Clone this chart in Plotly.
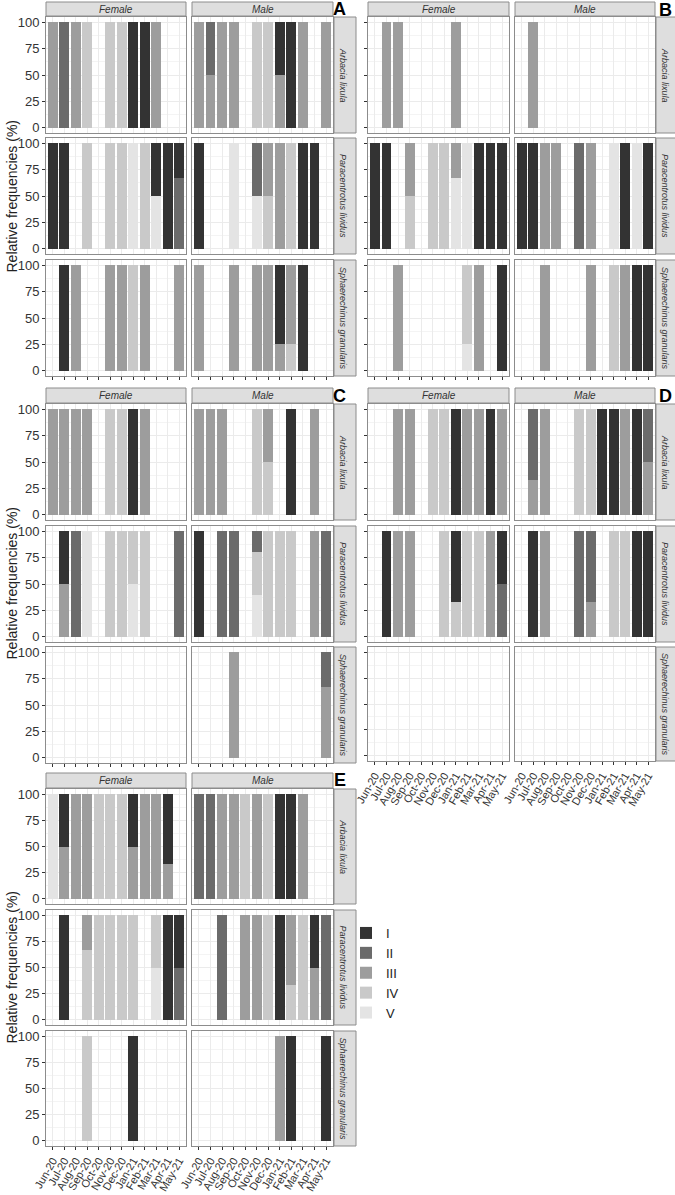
import plotly.graph_objects as go

# ---------------- data ----------------
MONTHS = ["Jun-20", "Jul-20", "Aug-20", "Sep-20", "Oct-20", "Nov-20",
          "Dec-20", "Jan-21", "Feb-21", "Mar-21", "Apr-21", "May-21"]
STAGES = ["I", "II", "III", "IV", "V"]
STAGE_COLORS = {"I": "#333333", "II": "#6b6b6b", "III": "#9d9d9d",
                "IV": "#c9c9c9", "V": "#e4e4e4"}
SPECIES = ["Arbacia lixula", "Paracentrotus lividus", "Sphaerechinus granularis"]
SEXES = ["Female", "Male"]
_ = None  # no sample that month

# Each month: a stage name (100 %), a dict {stage: %}, or None
# Panel A
A_F_ARB = ["III", "II", "III", "IV", _, "IV", "IV", "I", "I", "III", _, _]
A_M_ARB = ["III", {"II": 50, "III": 50}, "III", "III", _, "IV", "IV", {"I": 50, "III": 50}, "I", "III", _, "III"]
A_F_PAR = ["I", "I", _, "IV", _, "IV", "IV", "V", "IV", {"I": 50, "V": 50}, "I", {"I": 33.3, "II": 66.7}]
A_M_PAR = ["I", _, _, "V", _, {"II": 50, "V": 50}, {"III": 50, "IV": 50}, "III", "IV", "I", "I", _]
A_F_SPH = [_, "I", "III", _, _, "III", "III", "IV", "III", _, _, "III"]
A_M_SPH = ["III", _, _, "III", _, "III", "III", {"I": 75, "III": 25}, {"III": 75, "IV": 25}, "I", _, _]
# Panel B
B_F_ARB = [_, "III", "III", _, _, _, _, "III", _, _, _, _]
B_M_ARB = [_, "III", _, _, _, _, _, _, _, _, _, _]
B_F_PAR = ["I", "I", _, {"III": 50, "IV": 50}, _, "IV", "IV", {"III": 33.3, "V": 66.7}, "V", "I", "I", "I"]
B_M_PAR = ["I", "I", "III", "III", _, "II", "III", _, "V", "I", "V", "I"]
B_F_SPH = [_, _, "III", _, _, _, _, _, {"IV": 75, "V": 25}, "III", _, "I"]
B_M_SPH = [_, _, "III", _, _, _, "III", _, "IV", "III", "I", "I"]
# Panel C
C_F_ARB = ["III", "III", "III", "III", _, "IV", "IV", "I", "III", _, _, _]
C_M_ARB = ["III", "III", "III", _, _, "IV", {"III": 50, "IV": 50}, _, "I", _, "III", _]
C_F_PAR = [_, {"I": 50, "III": 50}, "II", "V", _, "IV", "IV", {"IV": 50, "V": 50}, "IV", _, _, "II"]
C_M_PAR = ["I", _, "II", "II", _, {"II": 20, "IV": 40, "V": 40}, "IV", "IV", "IV", _, "III", "II"]
C_F_SPH = [_, _, _, _, _, _, _, _, _, _, _, _]
C_M_SPH = [_, _, _, "III", _, _, _, _, _, _, _, {"II": 33.3, "III": 66.7}]
# Panel D
D_F_ARB = [_, _, "III", "III", _, "IV", "IV", "I", "III", "III", "I", "III"]
D_M_ARB = [_, {"II": 66.7, "III": 33.3}, "III", _, _, "IV", "IV", "I", "I", "III", "I", {"II": 50, "III": 50}]
D_F_PAR = [_, "I", "III", "III", _, _, "IV", {"I": 66.7, "IV": 33.3}, "IV", "IV", "III", {"I": 50, "II": 50}]
D_M_PAR = [_, "I", "III", _, _, "II", {"II": 66.7, "III": 33.3}, _, "IV", "IV", "I", "I"]
D_F_SPH = [_, _, _, _, _, _, _, _, _, _, _, _]
D_M_SPH = [_, _, _, _, _, _, _, _, _, _, _, _]
# Panel E
E_F_ARB = ["V", {"I": 50, "III": 50}, "III", "III", "IV", "IV", "IV", {"I": 50, "III": 50}, "III", "III", {"I": 66.7, "III": 33.3}, _]
E_M_ARB = ["II", "II", "III", "III", "IV", "III", "IV", "I", "I", "III", _, _]
E_F_PAR = [_, "I", _, {"III": 33.3, "IV": 66.7}, "IV", "IV", "IV", "IV", _, {"IV": 50, "V": 50}, "I", {"I": 50, "II": 50}]
E_M_PAR = [_, _, "II", _, "III", "III", "IV", "I", {"III": 66.7, "IV": 33.3}, "IV", {"I": 50, "III": 50}, "II"]
E_F_SPH = [_, _, _, "IV", _, _, _, "I", _, _, _, _]
E_M_SPH = [_, _, _, _, _, _, _, "III", "I", _, _, "I"]

PANEL_DATA = {
    "A": {"Female": [A_F_ARB, A_F_PAR, A_F_SPH], "Male": [A_M_ARB, A_M_PAR, A_M_SPH]},
    "B": {"Female": [B_F_ARB, B_F_PAR, B_F_SPH], "Male": [B_M_ARB, B_M_PAR, B_M_SPH]},
    "C": {"Female": [C_F_ARB, C_F_PAR, C_F_SPH], "Male": [C_M_ARB, C_M_PAR, C_M_SPH]},
    "D": {"Female": [D_F_ARB, D_F_PAR, D_F_SPH], "Male": [D_M_ARB, D_M_PAR, D_M_SPH]},
    "E": {"Female": [E_F_ARB, E_F_PAR, E_F_SPH], "Male": [E_M_ARB, E_M_PAR, E_M_SPH]},
}

# ---------------- layout geometry (pixels) ----------------
W, H = 675, 1195
LEFT_COLS = [(46, 186), (192, 333)]
RIGHT_COLS = [(368, 509), (515, 655)]
GEOM = {
    "A": dict(cols=LEFT_COLS, strip=(334, 356), head=(2, 16),
              rows=[(17, 133), (138, 254), (260, 376)], xlab=False, ylab=True, letter=(340, 9)),
    "B": dict(cols=RIGHT_COLS, strip=(656, 679), head=(2, 16),
              rows=[(17, 133), (138, 254), (260, 376)], xlab=False, ylab=False, letter=(665, 10)),
    "C": dict(cols=LEFT_COLS, strip=(334, 356), head=(388, 403),
              rows=[(404, 520), (526, 642), (647, 763)], xlab=False, ylab=True, letter=(340, 396)),
    "D": dict(cols=RIGHT_COLS, strip=(656, 679), head=(388, 403),
              rows=[(404, 520), (526, 642), (647, 761)], xlab=True, ylab=False, letter=(665, 396)),
    "E": dict(cols=LEFT_COLS, strip=(334, 356), head=(773, 788),
              rows=[(789, 904), (910, 1025), (1031, 1146)], xlab=True, ylab=True, letter=(340, 780)),
}

FONT = "Liberation Sans, Arial, sans-serif"
BORDER = "#8c8c8c"
STRIP_FILL = "#dedede"
GRID = "#ebebeb"


def px(x):
    return x / W


def py(y):
    return 1 - y / H


def stage_values(months):
    out = {s: [None] * len(months) for s in STAGES}
    for i, m in enumerate(months):
        if m is None:
            continue
        comp = {m: 100} if isinstance(m, str) else m
        for s, v in comp.items():
            out[s][i] = v
    return out


fig = go.Figure()
layout = {}
shapes = []
annotations = []
xs = list(range(1, len(MONTHS) + 1))
k = 0
first = True

for pname, geom in GEOM.items():
    for ci, sex in enumerate(SEXES):
        x0, x1 = geom["cols"][ci]
        h0, h1 = geom["head"]
        shapes.append(dict(type="rect", xref="paper", yref="paper",
                           x0=px(x0), x1=px(x1), y0=py(h1), y1=py(h0),
                           fillcolor=STRIP_FILL, line=dict(color=BORDER, width=1), layer="below"))
        annotations.append(dict(text="<i>%s</i>" % sex, xref="paper", yref="paper",
                                x=px((x0 + x1) / 2), y=py((h0 + h1) / 2), showarrow=False,
                                font=dict(family=FONT, size=10, color="#333333"),
                                xanchor="center", yanchor="middle"))
        for ri, sp in enumerate(SPECIES):
            k += 1
            y0, y1 = geom["rows"][ri]
            xa = "xaxis" if k == 1 else "xaxis%d" % k
            ya = "yaxis" if k == 1 else "yaxis%d" % k
            xr = "x" if k == 1 else "x%d" % k
            yr = "y" if k == 1 else "y%d" % k
            bottom = ri == len(SPECIES) - 1
            layout[xa] = dict(domain=[px(x0), px(x1)], range=[0.4, 12.6], anchor=yr,
                              tickmode="array", tickvals=xs, ticktext=MONTHS,
                              showticklabels=bottom and geom["xlab"], tickangle=-60,
                              ticks="outside" if bottom else "", ticklen=3, tickcolor="#333333",
                              tickfont=dict(family=FONT, size=11, color="#333333"),
                              showgrid=True, gridcolor=GRID, gridwidth=1, zeroline=False,
                              showline=True, mirror=True, linecolor=BORDER, linewidth=1,
                              automargin=False, fixedrange=True)
            layout[ya] = dict(domain=[py(y1), py(y0)], range=[-5, 105], anchor=xr,
                              tickmode="linear", tick0=0, dtick=25,
                              showticklabels=(ci == 0 and geom["ylab"]),
                              ticks="outside" if ci == 0 else "", ticklen=3, tickcolor="#333333",
                              tickfont=dict(family=FONT, size=13, color="#333333"),
                              showgrid=True, gridcolor=GRID, gridwidth=1, zeroline=False,
                              minor=dict(dtick=12.5, tick0=0, showgrid=True, gridcolor="#f4f4f4", ticks=""),
                              showline=True, mirror=True, linecolor=BORDER, linewidth=1,
                              automargin=False, fixedrange=True)
            vals = stage_values(PANEL_DATA[pname][sex][ri])
            for rank, st in reversed(list(enumerate(STAGES))):
                fig.add_trace(go.Bar(x=xs, y=vals[st], name=st, width=0.86,
                                     marker=dict(color=STAGE_COLORS[st], line=dict(width=0)),
                                     xaxis=xr, yaxis=yr, legendgroup=st,
                                     showlegend=first, legendrank=rank + 1,
                                     hoverinfo="skip"))
            first = False
            if ci == 1:
                s0, s1 = geom["strip"]
                shapes.append(dict(type="rect", xref="paper", yref="paper",
                                   x0=px(s0), x1=px(s1), y0=py(y1), y1=py(y0),
                                   fillcolor=STRIP_FILL, line=dict(color=BORDER, width=1), layer="below"))
                annotations.append(dict(text="<i>%s</i>" % sp, xref="paper", yref="paper",
                                        x=px(s0 + 9), y=py((y0 + y1) / 2), showarrow=False,
                                        textangle=90, font=dict(family=FONT, size=9, color="#333333"),
                                        xanchor="center", yanchor="middle"))
    lx, ly = geom["letter"]
    annotations.append(dict(text="<b>%s</b>" % pname, xref="paper", yref="paper",
                            x=px(lx), y=py(ly), showarrow=False,
                            font=dict(family=FONT, size=18, color="#000000"),
                            xanchor="center", yanchor="middle"))
    if geom["ylab"]:
        r0 = geom["rows"][0][0]
        r1 = geom["rows"][-1][1]
        annotations.append(dict(text="Relative frequencies (%)", xref="paper", yref="paper",
                                x=px(11), y=py((r0 + r1) / 2), showarrow=False, textangle=-90,
                                font=dict(family=FONT, size=14, color="#222222"),
                                xanchor="center", yanchor="middle"))

fig.update_layout(**layout)
fig.update_layout(
    width=W, height=H, margin=dict(l=0, r=0, t=0, b=0, autoexpand=False),
    paper_bgcolor="white", plot_bgcolor="white",
    barmode="stack", shapes=shapes, annotations=annotations,
    showlegend=True,
    legend=dict(x=px(346), y=py(918), xanchor="left", yanchor="top",
                font=dict(family=FONT, size=13, color="#222222"),
                bgcolor="rgba(0,0,0,0)", tracegroupgap=0, itemclick=False, itemdoubleclick=False),
)

fig.write_html("out.html")
